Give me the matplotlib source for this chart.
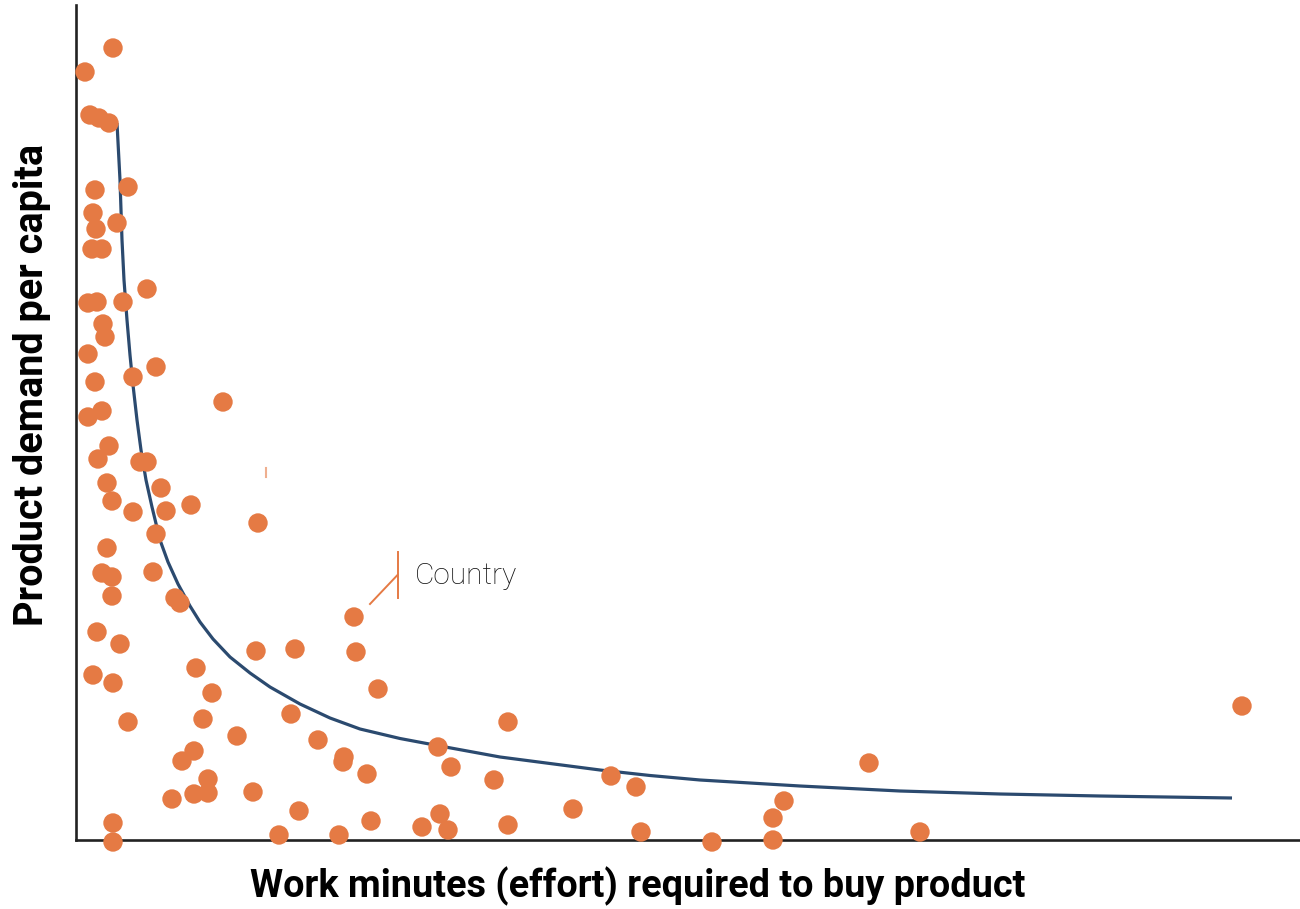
import matplotlib
matplotlib.use("Agg")
import matplotlib.pyplot as plt

# Work minutes needed to buy the product (x) vs. demand per capita (y), one dot per country
minutes = [3.7, 0.9, 1.4, 2.3, 3.3, 5.2, 1.9, 1.7, 4.1, 2.0,
           1.6, 2.6, 7.1, 1.2, 2.1, 4.7, 2.7, 2.9, 1.2, 8.0,
           5.7, 1.9, 14.7, 1.2, 2.6, 3.3, 2.2, 6.4, 7.1, 3.1,
           8.5, 3.6, 11.5, 5.7, 9.0, 18.2, 8.0, 3.1, 2.6, 3.6,
           7.7, 3.6, 9.9, 10.4, 27.8, 2.1, 4.4, 18.0, 21.9, 28.0,
           1.7, 12.0, 3.7, 13.6, 30.2, 5.2, 12.7, 21.5, 43.2, 116.6,
           16.1, 24.2, 11.8, 10.6, 26.8, 26.7, 36.2, 37.5, 29.1, 13.2,
           41.8, 53.5, 79.3, 56.0, 11.8, 13.2, 9.6, 17.7, 70.8, 22.3,
           49.7, 36.4, 69.7, 3.7, 29.5, 34.6, 37.2, 43.2, 56.5, 84.4,
           20.3, 26.3, 3.7, 63.6, 69.7]
demand = [79.2, 76.8, 72.5, 72.2, 71.7, 65.3, 65.0, 62.7, 61.7, 61.1,
          59.1, 59.1, 55.1, 53.7, 53.8, 53.8, 51.6, 50.3, 48.6, 47.3,
          46.3, 45.8, 43.8, 42.3, 42.9, 39.4, 38.1, 37.8, 37.8, 35.7,
          35.2, 33.9, 33.5, 32.8, 32.9, 31.7, 30.6, 29.2, 26.7, 26.3,
          26.8, 24.4, 24.2, 23.7, 22.3, 20.8, 19.6, 18.9, 19.1, 18.8,
          16.5, 17.2, 15.7, 14.7, 15.1, 11.8, 12.1, 12.6, 11.8, 13.4,
          10.4, 10.0, 8.9, 7.9, 8.3, 7.8, 9.3, 7.3, 6.6, 6.1,
          6.0, 6.4, 7.7, 5.3, 4.6, 4.7, 4.1, 4.8, 3.9, 2.9,
          3.1, 2.6, 2.2, 1.7, 1.9, 1.3, 1.0, 1.5, 0.8, 0.8,
          0.5, 0.5, -0.2, -0.2, 0.0]

# Fitted demand curve
trend_minutes = [4.1, 4.4, 4.6, 4.8, 5.1, 5.4, 5.7, 6.1, 6.5, 7.0,
                 7.6, 8.4, 9.2, 10.2, 11.4, 12.4, 13.7, 15.4, 17.4, 19.4,
                 22.4, 25.4, 28.4, 32.4, 36.4, 42.4, 47.4, 52.4, 57.4, 62.4,
                 72.4, 82.4, 92.4, 102.4, 115.6]
trend_demand = [71.7, 66.0, 60.0, 56.0, 52.0, 48.5, 45.5, 42.0, 39.0, 36.0,
                33.3, 30.0, 27.8, 25.6, 23.4, 21.8, 20.1, 18.3, 16.7, 15.3,
                13.6, 12.2, 11.1, 10.15, 9.4, 8.3, 7.65, 7.0, 6.45, 6.0,
                5.4, 4.9, 4.6, 4.4, 4.2]

label_text = "Country"

ORANGE = "#E57A44"
NAVY = "#2B4A6F"

fig = plt.figure(figsize=(13, 9.09), dpi=100)
ax = fig.add_axes([76 / 1300, 69 / 909, 1224 / 1300, 835 / 909])
ax.set_xlim(0, 122.4)
ax.set_ylim(0, 83.5)

ax.plot(trend_minutes, trend_demand, color=NAVY, lw=2.3, zorder=2,
        solid_capstyle="butt", solid_joinstyle="round")
ax.scatter(minutes, demand, s=195, color=ORANGE, edgecolors="none",
           zorder=4, clip_on=False)

# Callout for a single country
ax.plot([32.15, 32.15], [28.8, 24.2], color=ORANGE, lw=1.4, zorder=3)
ax.plot([29.4, 32.15], [23.6, 26.5], color=ORANGE, lw=1.4, zorder=3)
ax.text(33.9, 26.35, label_text, fontsize=21.5, family="Roboto",
        fontweight="light", color="#111111", va="center", ha="left")
ax.plot([19.0, 19.0], [37.2, 36.3], color=ORANGE, lw=1.5, alpha=0.6, zorder=3)

for side in ("top", "right"):
    ax.spines[side].set_visible(False)
for side in ("left", "bottom"):
    ax.spines[side].set_linewidth(1.9)
    ax.spines[side].set_color("#222222")
    ax.spines[side].set_zorder(3)
ax.set_xticks([])
ax.set_yticks([])

fig.text(638 / 1300, 1 - 886 / 909, "Work minutes (effort) required to buy product",
         fontsize=27.3, family="Roboto", fontweight="bold", color="black",
         ha="center", va="center")
fig.text(32 / 1300, 1 - 385 / 909, "Product demand per capita",
         fontsize=28.5, family="Roboto", fontweight="bold", color="black",
         ha="center", va="center", rotation=90)

fig.savefig("out.png", dpi=100)
